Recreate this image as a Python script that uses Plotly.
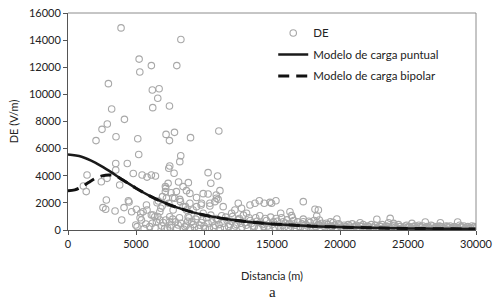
import plotly.graph_objects as go

# ---- Data ----
de_x = [
    3900, 8300, 5230, 6130, 8000, 5280, 2970, 6200, 6700, 6600, 3210, 6230, 7460, 4150, 2890, 2500,
    3530, 5130, 2060, 7210, 7830, 7460, 9010, 11090,
    5200, 8290, 8220, 3510, 4360, 3510, 1400, 2450, 2870, 3800, 4800, 5450, 5810, 6130, 6430, 1340,
    1130, 2820, 7410, 7800, 8130, 7360, 7190, 7580, 7970, 6950, 7240, 7850, 6550, 8460, 8850, 10300,
    11000, 10500, 11170, 10900, 9940, 9450, 10300, 8710, 8960, 10800, 10920, 11040, 8220, 8270, 7700,
    7160, 7160, 6650, 7480,
    2570, 2770, 3460, 4120, 4440, 4490, 4680, 5030, 5810, 5350, 6130, 6380, 6820, 6920, 7410, 8640,
    9450, 9790, 10430, 8960, 9820, 10430, 11410, 12520, 12760, 13380, 13750, 14070, 14430, 14850,
    15290, 14970, 17300, 7730, 8460, 9200, 12030, 13130, 12270, 9940, 5770, 5520, 6250, 6750, 8710,
    8830, 15640, 16320, 16440, 18160, 18410, 18290, 7480,
    3950, 5080, 6750, 7190, 7600, 8100, 5400, 5720, 6010, 4980, 7480, 18480, 17300, 19770, 22710,
    15830, 19300, 21480, 23690, 23570, 23940, 25290, 26270, 27380, 28650,
    6500, 6900, 7300, 7700, 8000, 8300, 8600, 8800, 9000, 9200, 9400, 9600, 9800, 10000, 10200, 10400,
    10600, 10800, 11000, 11200, 11400, 11600, 11800, 12000, 12200, 12400, 12600, 12800, 13000, 13200,
    13400, 13600, 13800, 14000, 14200, 14400, 14600, 14800, 15000, 15200, 15400, 15600, 15800, 16000,
    16200, 16400, 16600, 16800, 17000, 17200, 17400, 17600, 17800, 18000, 18200, 18400, 18600, 18800,
    19000, 19200, 19400, 19600, 19800, 20000, 20200, 20400, 20600, 20800, 21000, 21200, 21400, 21600,
    21800, 22000, 22200, 22400, 22600, 22800, 23000, 23200, 23400, 23600, 23800, 24000, 24200, 24400,
    24600, 24800, 25000, 25200, 25400, 25600, 25800, 26000, 26200, 26400, 26600, 26800, 27000, 27200,
    27400, 27600, 27800, 28000, 28200, 28400, 28600, 28800, 29000, 29200, 29400, 29600, 29800, 30000,
    8900, 9100, 9300, 9500, 9700, 9900, 10100, 10300, 10500, 10700, 10900, 11100, 11300, 11500, 11700,
    11900, 12100, 12300, 12500, 12700, 12900, 13100, 13300, 13500, 13700, 13900, 14100, 14300, 14500,
    14700, 14900, 15100, 15300, 15500, 15700, 15900, 16100, 16300, 16500, 16700, 16900, 17100, 17300,
    17500, 17700, 17900, 18100, 18300, 18500, 18700, 18900, 19100, 19300, 19500, 19700, 19900, 20100,
    20300, 20500, 20700, 20900, 21100, 21300, 21500, 21700, 21900, 22100, 22300, 22500, 22700, 22900,
    23100, 23300, 23500, 23700, 23900, 24100, 24300, 24500, 24700, 24900, 25100, 25300, 25500, 25700,
    25900, 26100, 26300, 26500, 26700, 26900, 27100, 27300, 27500, 27700, 27900, 28100, 28300, 28500,
    28700, 28900, 29100, 29300, 29500, 29700, 29900,
    5300, 5600, 6200, 6400, 6600, 7000, 7100, 7500, 7900, 8200, 8500, 8700,
]
de_y = [
    14900, 14050, 12600, 12120, 12120, 11650, 10790, 10320, 10420, 9710, 8920, 9020, 9140, 8160, 7820, 7420,
    6880, 6730, 6590, 7050, 7200, 6590, 6810, 7300,
    5570, 5480, 5040, 4900, 4900, 4420, 4060, 3560, 3810, 3320, 4170, 4060, 3900, 4060, 3980, 2830,
    3240, 2210, 4550, 4180, 3540, 3440, 3070, 2750, 2830, 2460, 2340, 2340, 2010, 3200, 3490, 4230,
    3980, 3450, 2900, 2580, 2680, 2400, 2650, 2900, 2700, 2090, 2340, 2260, 2260, 2090, 2380,
    3200, 2830, 2140, 4720,
    1650, 1530, 1400, 1650, 2160, 2060, 1350, 1530, 1470, 1230, 1110, 980, 1600, 1770, 1970, 1720,
    1720, 1840, 1970, 1970, 1970, 1770, 1720, 1970, 1600, 1840, 1970, 2160, 1970, 2040,
    2160, 1970, 2090, 1470, 1720, 1470, 1230, 1230, 1470, 1230, 1840, 1350, 1110, 1350, 1470,
    980, 1230, 1350, 1060, 1530, 1470, 1030, 980,
    740, 250, 740, 740, 370, 370, 740, 440, 250, 370, 610, 740, 610, 810, 790,
    610, 610, 540, 860, 540, 490, 490, 590, 540, 590,
    600, 300, 150, 800, 100, 500, 250, 650, 150, 400, 800, 100, 550, 300, 900, 150,
    600, 350, 750, 100, 500, 950, 250, 650, 150, 400, 850, 200, 550, 100,
    700, 300, 900, 150, 500, 250, 700, 100, 400, 200, 650, 100, 350, 500,
    150, 300, 700, 100, 250, 450, 150, 300, 550, 100, 250, 400, 150, 300,
    500, 100, 250, 350, 150, 300, 100, 250, 400, 150, 200, 350, 100, 250,
    150, 300, 100, 200, 350, 150, 250, 100, 300, 150, 200, 350, 100, 250,
    150, 300, 200, 100, 250, 150, 350, 200, 100, 250, 150, 300, 200, 100,
    250, 150, 300, 200, 100, 250, 150, 350, 200, 100, 250, 150, 200, 150,
    900, 600, 200, 1000, 350, 750, 100, 500, 1100, 200, 850, 400, 1050, 200, 700,
    400, 1000, 300, 750, 500, 1100, 350, 900, 500, 250, 650, 1050, 400, 850,
    300, 950, 600, 850, 300, 900, 200, 750, 450, 900, 350, 600, 200, 800,
    400, 650, 300, 700, 550, 350, 500, 200, 400, 300, 550, 200, 450, 200,
    350, 150, 300, 450, 250, 150, 300, 400, 200, 250, 400, 200, 100, 300,
    400, 200, 250, 100, 300, 200, 400, 100, 200, 350, 250, 150, 300, 100,
    250, 300, 150, 200, 350, 100, 250, 300, 200, 100, 250, 300, 150, 200,
    100, 250, 300, 200, 100, 300, 250,
    900, 100, 500, 150, 1000, 550, 100, 200, 600, 900, 50, 350,
]

puntual_x = [0, 1000, 2000, 3000, 4000, 5000, 6000, 7000, 8000, 9000, 10000, 11000, 12000, 13000,
             14000, 15000, 16000, 17000, 18000, 19000, 20000, 22000, 24000, 26000, 28000, 30000]
puntual_y = [5560, 5403, 4973, 4374, 3714, 3081, 2520, 2049, 1665, 1356, 1109, 913, 757, 632,
             532, 450, 384, 330, 285, 247, 216, 167, 132, 106, 86, 71]

bipolar_x = [0, 500, 1000, 1500, 2000, 2500, 3000, 3500, 4000, 5000, 6000, 7000, 8000, 9000, 10000,
             11000, 12000, 13000, 14000, 15000, 16000, 17000, 18000, 19000, 20000, 22000, 24000,
             26000, 28000, 30000]
bipolar_y = [2900, 2960, 3180, 3500, 3800, 3990, 4060, 4000, 3700, 3081, 2520, 2049, 1665, 1356, 1109,
             913, 757, 632, 532, 450, 384, 330, 285, 247, 216, 167, 132, 106, 86, 71]

x_ticks = [0, 5000, 10000, 15000, 20000, 25000, 30000]
y_ticks = [0, 2000, 4000, 6000, 8000, 10000, 12000, 14000, 16000]

FONT = "Lato, 'Open Sans', sans-serif"

fig = go.Figure()
fig.add_trace(go.Scatter(
    x=de_x, y=de_y, mode="markers", name="DE", legendgroup="g1",
    marker=dict(symbol="circle-open", size=6.5, color="#a8a8a8", line=dict(width=1.1, color="#a8a8a8")),
))
fig.add_trace(go.Scatter(
    x=puntual_x, y=puntual_y, mode="lines", name="Modelo de carga puntual", legendgroup="g2",
    line=dict(color="#1a1a1a", width=2.5, shape="spline"),
))
fig.add_trace(go.Scatter(
    x=bipolar_x, y=bipolar_y, mode="lines", name="Modelo de carga bipolar", legendgroup="g3",
    line=dict(color="#111111", width=3, dash="11px,7px", shape="spline"),
))

fig.update_layout(
    width=503, height=302,
    margin=dict(l=68, r=27, t=13, b=72, autoexpand=False),
    paper_bgcolor="white", plot_bgcolor="white",
    font=dict(family=FONT, size=11, color="#222222"),
    showlegend=True,
    legend=dict(x=0.503, y=0.975, xanchor="left", yanchor="top", bgcolor="rgba(0,0,0,0)",
                font=dict(size=11.5, family=FONT), itemwidth=30, tracegroupgap=2.5),
    xaxis=dict(range=[0, 30000], tickvals=x_ticks, ticktext=[str(v) for v in x_ticks],
               automargin=False, ticklabeloverflow="allow",
               showgrid=False, zeroline=False, showline=True, linecolor="#555555", linewidth=1,
               ticks="outside", ticklen=4, tickcolor="#555555",
               title=dict(text="Distancia (m)", font=dict(size=11), standoff=23)),
    yaxis=dict(range=[0, 16000], tickvals=y_ticks, ticktext=[str(v) for v in y_ticks],
               automargin=False, ticklabeloverflow="allow",
               showgrid=False, zeroline=False, showline=True, linecolor="#555555", linewidth=1,
               ticks="outside", ticklen=4, tickcolor="#555555",
               title=dict(text="DE (V/m)", font=dict(size=11), standoff=8)),
    shapes=[
        dict(type="line", xref="paper", yref="paper", x0=0, x1=1, y0=1, y1=1,
             line=dict(color="#8c8c8c", width=1)),
        dict(type="line", xref="paper", yref="paper", x0=1, x1=1, y0=0, y1=1,
             line=dict(color="#8c8c8c", width=1)),
    ],
    annotations=[
        dict(text="a", xref="paper", yref="paper", x=0.5, y=-0.286, xanchor="center", yanchor="middle",
             showarrow=False, font=dict(family="Liberation Serif, serif", size=15, color="#222222")),
    ],
)

# Remove the default page margin so the figure sits at the window's top-left corner.
fig.write_html("out.html", config={"displayModeBar": False},
               post_script="document.body.style.margin='0';")
